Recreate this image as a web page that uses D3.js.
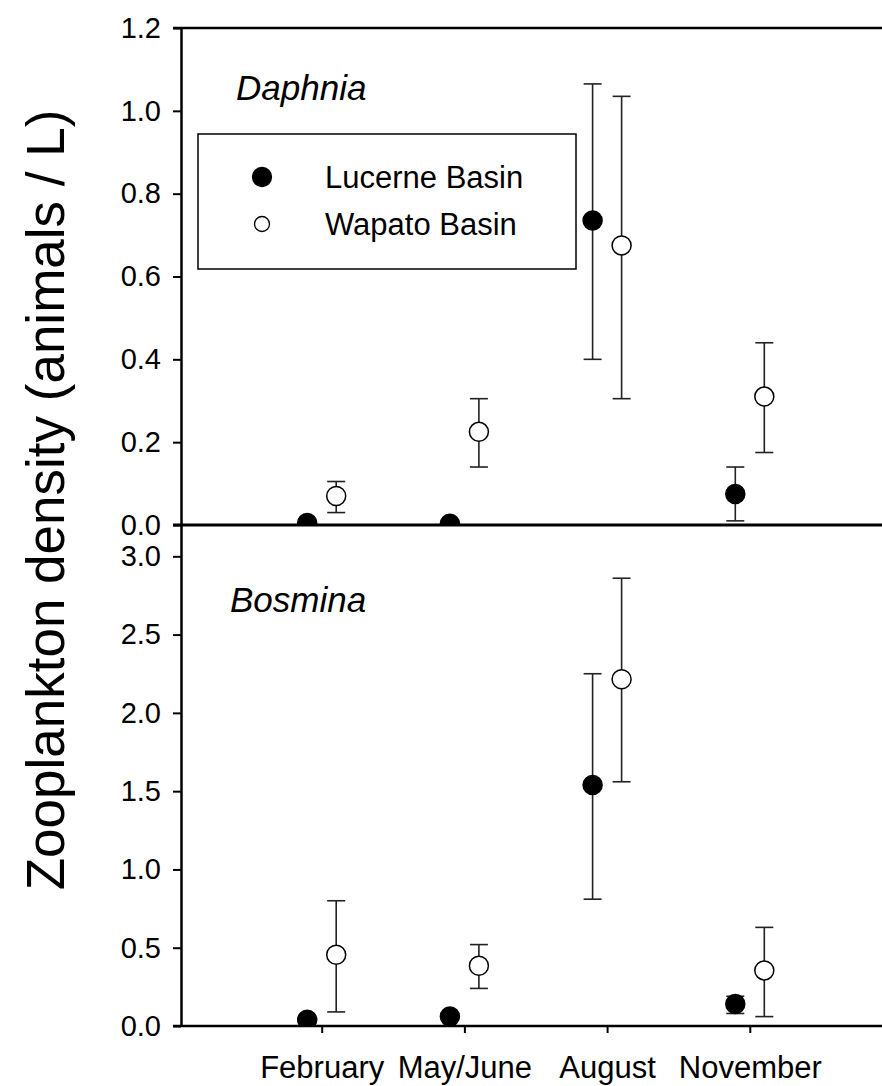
<!DOCTYPE html>
<html>
<head>
<meta charset="utf-8">
<script src="https://cdnjs.cloudflare.com/ajax/libs/d3/7.8.5/d3.min.js"></script>
<style>
  body { margin: 0; background: #fff; }
  svg { display: block; font-family: "Liberation Sans", Arial, sans-serif; }
</style>
</head>
<body>
<div id="container"></div>
<script>
// months on the x axis
var months = ["February", "May/June", "August", "November"];
var series = ["Lucerne Basin", "Wapato Basin"];

// Daphnia (animals / L): mean, lower and upper error ends
var daphLucerne = [0.005, 0.003, 0.735, 0.075];
var daphLucerneLo = [0.005, 0.003, 0.40, 0.01];
var daphLucerneHi = [0.005, 0.003, 1.065, 0.14];
var daphWapato = [0.07, 0.225, 0.675, 0.31];
var daphWapatoLo = [0.03, 0.14, 0.305, 0.175];
var daphWapatoHi = [0.105, 0.305, 1.035, 0.44];

// Bosmina (animals / L)
var bosLucerne = [0.04, 0.06, 1.54, 0.14];
var bosLucerneLo = [0.03, 0.05, 0.81, 0.08];
var bosLucerneHi = [0.05, 0.08, 2.25, 0.19];
var bosWapato = [0.455, 0.385, 2.215, 0.355];
var bosWapatoLo = [0.09, 0.24, 1.56, 0.06];
var bosWapatoHi = [0.80, 0.52, 2.86, 0.63];

var daphTicks = [0, 0.2, 0.4, 0.6, 0.8, 1.0, 1.2];
var bosTicks = [0, 0.5, 1.0, 1.5, 2.0, 2.5, 3.0];

const width = 882, height = 1086;
const left = 181, right = 893;
const topY = 28, midY = 525, botY = 1026;

const svg = d3.select("#container").append("svg")
  .attr("width", width)
  .attr("height", height);

const x = d3.scaleLinear().domain([0, 5]).range([179, 179 + 5 * 142.7]);
const off = 14.5;

const yTop = d3.scaleLinear().domain([0, 1.2]).range([midY, topY]);
const yBot = d3.scaleLinear().domain([0, 3.2]).range([botY, midY]);

const defs = svg.append("defs");
defs.append("clipPath").attr("id", "clipTop").append("rect")
  .attr("x", left).attr("y", topY).attr("width", right - left).attr("height", midY - topY);
defs.append("clipPath").attr("id", "clipBot").append("rect")
  .attr("x", left).attr("y", midY).attr("width", right - left).attr("height", botY - midY);

function drawPanel(y, clipId, lucerne, lucLo, lucHi, wapato, wapLo, wapHi) {
  let g = svg.append("g").attr("clip-path", "url(#" + clipId + ")");
  let data = [];
  for (let i = 0; i < months.length; i++) {
    data.push({ i: i, v: lucerne[i], lo: lucLo[i], hi: lucHi[i], dx: -off, fill: "#000" });
    data.push({ i: i, v: wapato[i], lo: wapLo[i], hi: wapHi[i], dx: off, fill: "#fff" });
  }
  // error bars
  data.forEach(function (d) {
    let cx = x(d.i + 1) + d.dx;
    g.append("line").attr("x1", cx).attr("x2", cx)
      .attr("y1", y(d.lo)).attr("y2", y(d.hi))
      .attr("stroke", "#222").attr("stroke-width", 1.6);
    [d.lo, d.hi].forEach(function (e) {
      g.append("line").attr("x1", cx - 9).attr("x2", cx + 9)
        .attr("y1", y(e)).attr("y2", y(e))
        .attr("stroke", "#222").attr("stroke-width", 1.6);
    });
  });
  g.selectAll("circle.pt").data(data).enter().append("circle")
    .attr("class", "pt")
    .attr("cx", d => x(d.i + 1) + d.dx)
    .attr("cy", d => y(d.v))
    .attr("r", 9.5)
    .attr("fill", d => d.fill)
    .attr("stroke", "#000")
    .attr("stroke-width", 1.5);
}

drawPanel(yTop, "clipTop", daphLucerne, daphLucerneLo, daphLucerneHi, daphWapato, daphWapatoLo, daphWapatoHi);
drawPanel(yBot, "clipBot", bosLucerne, bosLucerneLo, bosLucerneHi, bosWapato, bosWapatoLo, bosWapatoHi);

// y axes
const axTop = svg.append("g").attr("transform", `translate(${left},0)`)
  .call(d3.axisLeft(yTop).tickValues(daphTicks).tickFormat(d3.format(".1f")).tickSize(8).tickSizeOuter(0));
const axBot = svg.append("g").attr("transform", `translate(${left},0)`)
  .call(d3.axisLeft(yBot).tickValues(bosTicks).tickFormat(d3.format(".1f")).tickSize(8).tickSizeOuter(0));
[axTop, axBot].forEach(function (a) {
  a.select(".domain").attr("stroke-width", 2.5);
  a.selectAll(".tick line").attr("stroke-width", 2);
  a.selectAll(".tick text").attr("font-size", 29).attr("x", -20)
    .attr("font-family", "Liberation Sans, Arial, sans-serif").attr("fill", "#000");
});

// horizontal frame lines
svg.append("line").attr("x1", left - 8).attr("x2", width).attr("y1", topY).attr("y2", topY)
  .attr("stroke", "#000").attr("stroke-width", 2.5);
svg.append("line").attr("x1", left - 8).attr("x2", width).attr("y1", midY).attr("y2", midY)
  .attr("stroke", "#000").attr("stroke-width", 3);

// x axis at the bottom
const xb = svg.append("g").attr("transform", `translate(0,${botY})`)
  .call(d3.axisBottom(x).tickValues([1, 2, 3, 4]).tickFormat(d => months[d - 1]).tickSize(7).tickSizeOuter(0));
xb.select(".domain").remove();
svg.append("line").attr("x1", left - 8).attr("x2", width).attr("y1", botY).attr("y2", botY)
  .attr("stroke", "#000").attr("stroke-width", 2.5);
xb.selectAll(".tick line").attr("stroke-width", 2);
xb.selectAll(".tick text").attr("font-size", 31).attr("y", 30)
  .attr("font-family", "Liberation Sans, Arial, sans-serif").attr("fill", "#000");

// panel labels
svg.append("text").attr("x", 236).attr("y", 100).attr("font-size", 35)
  .attr("font-style", "italic").text("Daphnia");
svg.append("text").attr("x", 230).attr("y", 612).attr("font-size", 35)
  .attr("font-style", "italic").text("Bosmina");

// y title
svg.append("text")
  .attr("transform", "translate(64,500) rotate(-90)")
  .attr("text-anchor", "middle")
  .attr("font-size", 53)
  .text("Zooplankton density (animals / L)");

// legend
const lg = svg.append("g");
lg.append("rect").attr("x", 198).attr("y", 134).attr("width", 378).attr("height", 135)
  .attr("fill", "#fff").attr("stroke", "#000").attr("stroke-width", 1.5);
series.forEach(function (s, i) {
  lg.append("circle").attr("cx", 262).attr("cy", 177 + i * 47)
    .attr("r", i == 0 ? 9.5 : 7.5)
    .attr("fill", i == 0 ? "#000" : "#fff")
    .attr("stroke", "#000").attr("stroke-width", 1.3);
  lg.append("text").attr("x", 325).attr("y", 188 + i * 47)
    .attr("font-size", 31).text(s);
});
</script>
</body>
</html>
